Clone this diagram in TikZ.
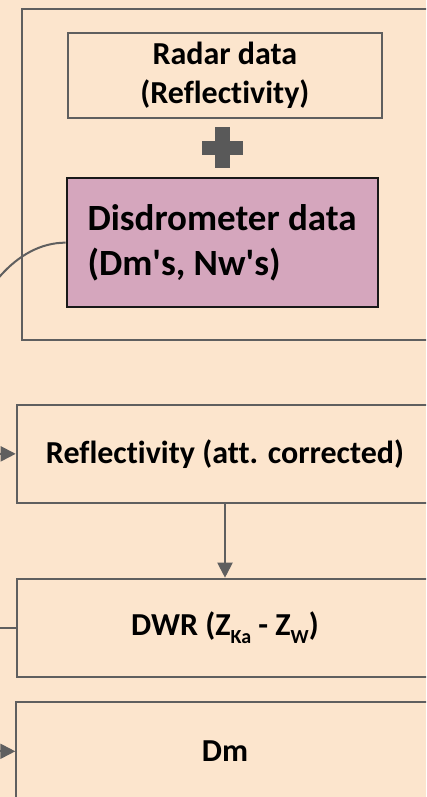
\documentclass[tikz,border=0pt]{standalone}
\usepackage{fontspec}
\setmainfont{Carlito}[Ligatures=CommonOff]
\usetikzlibrary{arrows.meta}
\definecolor{bgpeach}{HTML}{FCE5CD}
\definecolor{disdfill}{HTML}{D5A6BD}
\definecolor{linegray}{HTML}{5F5F5F}
\definecolor{plusgray}{HTML}{595959}
\begin{document}
\begin{tikzpicture}[x=1pt,y=-1pt,
  box/.style={draw=linegray, line width=2pt, rectangle, inner sep=0pt, align=center,
    font=\bfseries\fontsize{32}{39.5}\selectfont},
  disdbox/.style={box, draw=black!90, fill=disdfill},
  bigtext/.style={inner sep=0pt, align=left, font=\bfseries\fontsize{37}{45}\selectfont},
  conn/.style={draw=linegray, line width=2pt},
  tipped/.style={-{Triangle[length=15pt,width=15pt]}}
]
\useasboundingbox (0,0) rectangle (426,797);
\clip (0,0) rectangle (426,797);
\fill[bgpeach] (0,0) rectangle (426,797);

% outer container
\node[box, minimum width=438.3pt, minimum height=331pt] (outer) at (240.85,174.5) {};

% radar data
\node[box, minimum width=313.7pt, minimum height=84.7pt] (radar) at (224.85,75.35) {Radar data\\(Reflectivity)};

% plus sign
\fill[plusgray] (202.3,140.7) rectangle (243.3,155);
\fill[plusgray] (215,127.3) rectangle (230,168.3);

% disdrometer data
\node[disdbox, minimum width=311.6pt, minimum height=129.3pt] (disd) at (222.5,242.65) {};
\node[bigtext, anchor=west] (disdtext) at (87.3,243) {Disdrometer data\\(Dm\textquotesingle s, Nw\textquotesingle s)};

% lower chain
\node[box, minimum width=416.6pt, minimum height=97.7pt] (refl) at (225,453.85) {Reflectivity (att. corrected)};
\node[box, minimum width=416.6pt, minimum height=98pt] (dwr) at (225,627.7)
  {DWR (Z\raisebox{-7.4pt}{\fontsize{20}{20}\selectfont Ka} - Z\raisebox{-7.4pt}{\fontsize{20}{20}\selectfont W})};
\node[box, minimum width=417.4pt, minimum height=98pt] (dm) at (225,751.3) {Dm};

% connectors
\draw[conn, tipped] (disd.west) to[out=180, in=180, looseness=1.2] (refl.west);
\draw[conn, tipped] (refl.south) -- (dwr.north);
\draw[conn, tipped] (dwr.west) -- ++(-30,0) |- (dm.west);
\end{tikzpicture}
\end{document}
